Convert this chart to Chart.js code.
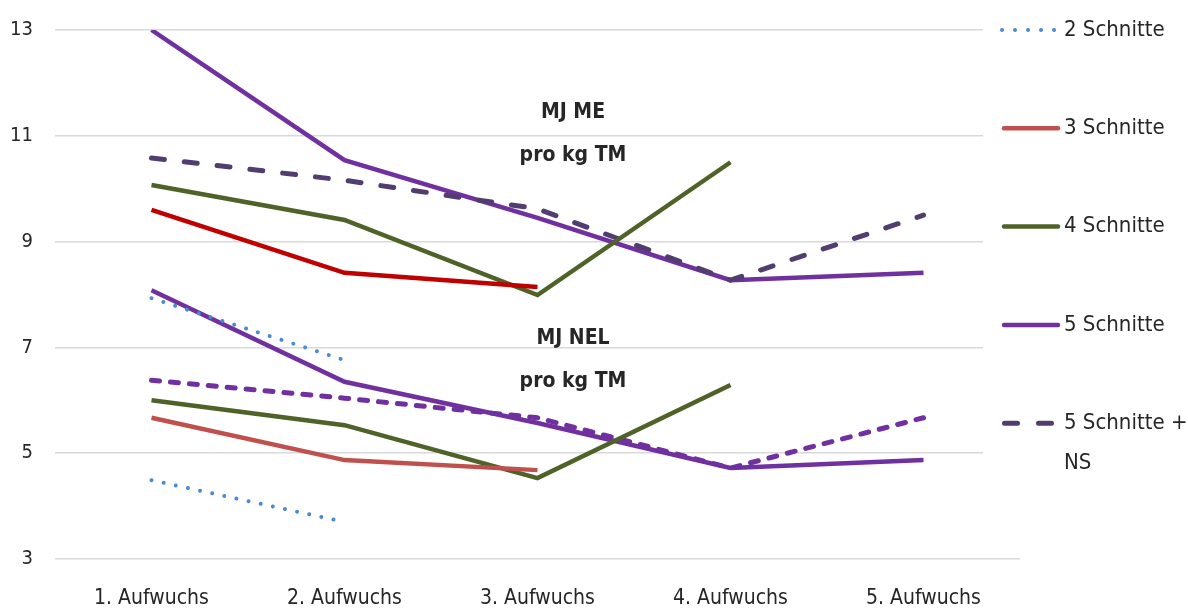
<!DOCTYPE html>
<html>
<head>
<meta charset="utf-8">
<script src="https://cdn.jsdelivr.net/npm/chart.js@4.4.1/dist/chart.umd.min.js"></script>
<style>
  html, body { margin: 0; padding: 0; background: #fff; }
  #wrap { width: 1188px; height: 610px; position: relative; }
</style>
</head>
<body>
<div id="wrap"><canvas id="c" width="1188" height="610"></canvas></div>
<script>
const categories = ['1. Aufwuchs', '2. Aufwuchs', '3. Aufwuchs', '4. Aufwuchs', '5. Aufwuchs'];
const yTicks = [3, 5, 7, 9, 11, 13];

// MJ ME pro kg TM
const me2 = [7.93, 6.76, null, null, null];
const me3 = [9.6, 8.41, 8.14, null, null];
const me4 = [10.07, 9.41, 7.99, 10.5, null];
const me5 = [13.0, 10.54, 9.45, 8.27, 8.41];
const me5ns = [10.58, 10.16, 9.62, 8.27, 9.5];

// MJ NEL pro kg TM
const nel2 = [4.49, 3.70, null, null, null];
const nel3 = [5.67, 4.87, 4.68, null, null];
const nel4 = [6.0, 5.53, 4.53, 6.29, null];
const nel5 = [8.08, 6.35, 5.57, 4.72, 4.87];
const nel5ns = [6.38, 6.04, 5.67, 4.72, 5.67];

const legendNames = ['2 Schnitte', '3 Schnitte', '4 Schnitte', '5 Schnitte', '5 Schnitte + NS'];
const annotations = [['MJ ME', 'pro kg TM'], ['MJ NEL', 'pro kg TM']];

const FONT = "'DejaVu Sans Condensed', 'Liberation Sans Narrow', sans-serif";
const TXT = '#262626';

const sDot = { borderColor: '#4A8AD0', borderWidth: 4, borderDash: [0.01, 12.4], borderCapStyle: 'round' };
const sRedME = { borderColor: '#C00000', borderWidth: 4.5 };
const sRed = { borderColor: '#C0504D', borderWidth: 4.5 };
const sGreen = { borderColor: '#4F6228', borderWidth: 4.5 };
const sPurple = { borderColor: '#7030A0', borderWidth: 4.5 };
const sNSme = { borderColor: '#513D70', borderWidth: 5, borderDash: [13, 20], borderCapStyle: 'round' };
const sNSnel = { borderColor: '#7030A0', borderWidth: 5, borderDash: [8, 11], borderCapStyle: 'round' };

function ds(label, data, style, leg) {
  return Object.assign({ label, data, pointRadius: 0, pointHoverRadius: 0, tension: 0, fill: false, spanGaps: false, legendIdx: leg }, style);
}

const datasets = [
  ds('2 Schnitte', me2, sDot, 0),
  ds('3 Schnitte', me3, sRedME, -1),
  ds('4 Schnitte', me4, sGreen, 2),
  ds('5 Schnitte + NS', me5ns, sNSme, 4),
  ds('5 Schnitte', me5, sPurple, 3),
  ds('2 Schnitte', nel2, sDot, -1),
  ds('3 Schnitte', nel3, sRed, 1),
  ds('4 Schnitte', nel4, sGreen, -1),
  ds('5 Schnitte + NS', nel5ns, sNSnel, -1),
  ds('5 Schnitte', nel5, sPurple, -1)
];

const overlayPlugin = {
  id: 'overlay',
  beforeDatasetsDraw(chart) {
    const { ctx, chartArea } = chart;
    ctx.save();
    ctx.fillStyle = '#ffffff';
    ctx.fillRect(chartArea.right - 37, 0, 300, chartArea.bottom - 2);
    ctx.restore();
  },
  afterDraw(chart) {
    const { ctx, chartArea, scales } = chart;
    ctx.save();
    ctx.fillStyle = TXT;
    ctx.textAlign = 'center';
    ctx.textBaseline = 'middle';
    ctx.font = "bold 21px " + FONT;
    const ax = (scales.x.getPixelForValue(2) + scales.x.getPixelForValue(3)) / 2 - 61;
    const tops = [113, 339];
    annotations.forEach((lines, i) => {
      lines.forEach((t, j) => ctx.fillText(t, ax, tops[i] + j * 43));
    });
    const x0 = chartArea.right - 18, x1 = chartArea.right + 40;
    const rowH = 98.3;
    legendNames.forEach((name, i) => {
      const d = datasets.find(dd => dd.legendIdx === i);
      const y = chartArea.top + i * rowH;
      ctx.save();
      ctx.strokeStyle = d.borderColor;
      ctx.lineWidth = d.borderWidth;
      ctx.lineCap = d.borderCapStyle || 'butt';
      let a = x0, b = x1;
      if (i === 0) { a = x0; b = x1 - 4; ctx.setLineDash([0.01, 13]); }
      else if (i === 4) { a = x0 + 2.5; b = x1 - 2; ctx.setLineDash([13, 21]); }
      else { ctx.lineCap = 'round'; a = x0 + 2; b = x1 - 2; }
      ctx.beginPath();
      ctx.moveTo(a, y);
      ctx.lineTo(b, y);
      ctx.stroke();
      ctx.restore();
      ctx.fillStyle = TXT;
      ctx.textAlign = 'left';
      ctx.textBaseline = 'middle';
      ctx.font = "22px " + FONT;
      if (i === 4) {
        ctx.fillText('5 Schnitte +', x1 + 4, y);
        ctx.fillText('NS', x1 + 4, y + 40);
      } else {
        ctx.fillText(name, x1 + 4, y);
      }
    });
    ctx.restore();
  }
};

new Chart(document.getElementById('c'), {
  type: 'line',
  data: { labels: categories, datasets },
  options: {
    responsive: false,
    animation: false,
    devicePixelRatio: 1,
    layout: { padding: { top: 30, right: 168, left: 0, bottom: 0 } },
    plugins: { legend: { display: false }, tooltip: { enabled: false } },
    scales: {
      x: {
        offset: true,
        grid: { display: false, drawTicks: false },
        border: { display: false },
        ticks: { color: TXT, font: { family: FONT, size: 21 }, padding: 27, maxRotation: 0 },
        afterFit(s) { s.height = 51; s.paddingLeft = 0; s.paddingRight = 0; }
      },
      y: {
        min: 3, max: 13,
        afterBuildTicks(s) { s.ticks = yTicks.map(v => ({ value: v })); },
        grid: { color: '#D9D9D9', lineWidth: 1.5, drawTicks: false },
        border: { display: false },
        ticks: { color: TXT, font: { family: FONT, size: 20 }, padding: 22 },
        afterFit(s) { s.width = 55; s.paddingTop = 0; s.paddingBottom = 0; }
      }
    }
  },
  plugins: [overlayPlugin]
});
</script>
</body>
</html>
